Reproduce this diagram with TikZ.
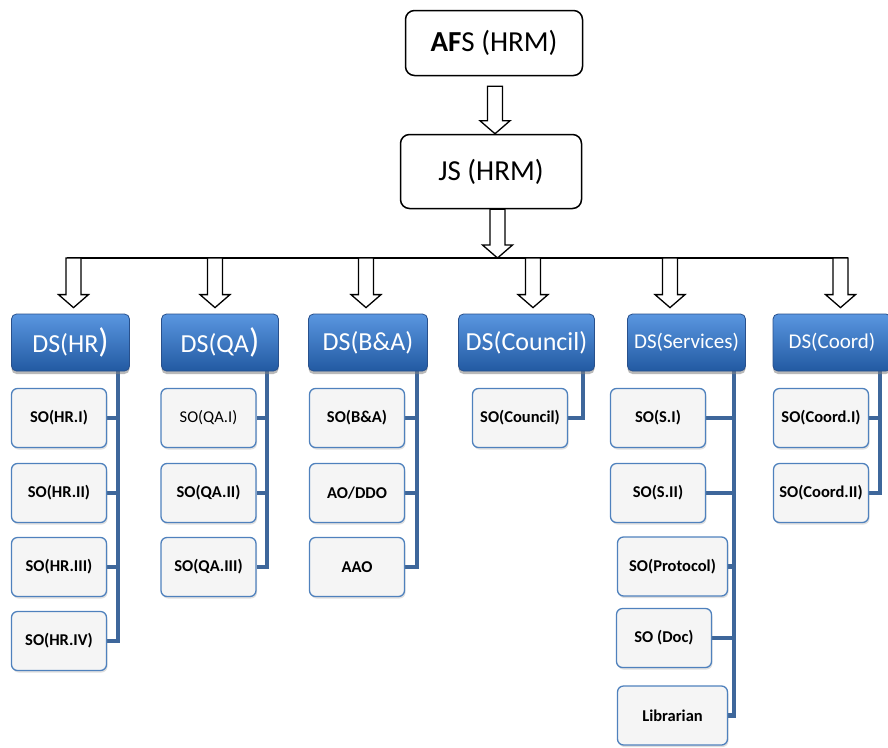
\documentclass[tikz,border=0pt]{standalone}
\usepackage{fontspec}
\setmainfont{Carlito}
\usetikzlibrary{calc,shadows,backgrounds}

\definecolor{dstop}{RGB}{90,150,224}
\definecolor{dsbot}{RGB}{34,90,162}
\definecolor{dsedge}{RGB}{40,80,140}
\definecolor{soedge}{RGB}{79,129,189}
\definecolor{sofill}{RGB}{245,245,245}
\definecolor{linkblue}{RGB}{62,103,155}

\tikzset{
  topbox/.style={draw=black, line width=1.5pt, rounded corners=9pt, fill=white,
    inner sep=0pt, font=\fontsize{29}{32}\selectfont},
  dsbox/.style={draw=dsedge, line width=0.8pt, rounded corners=5pt,
    top color=dstop, bottom color=dsbot, text=white, inner sep=0pt,
    minimum height=57pt, font=\fontsize{26}{29}\selectfont,
    drop shadow={opacity=0.55, shadow xshift=0pt, shadow yshift=-3pt}},
  sobox/.style={draw=soedge, line width=1.3pt, rounded corners=6pt, fill=sofill,
    inner sep=0pt, minimum width=95pt, minimum height=59pt,
    font=\fontsize{16.5}{19}\selectfont\bfseries,
    drop shadow={opacity=0.25, shadow xshift=1pt, shadow yshift=-2pt}},
  link/.style={draw=linkblue, line width=4.8pt},
  blockarrow/.style={draw=black, line width=1.3pt, fill=white, line join=miter}
}

% hollow down arrow: #1 top of shaft, #2 gives the height of the tip
\newcommand{\hollowdown}[2]{%
  \draw[blockarrow] let \p1=(#1), \p2=(#2) in
    (\x1-7.5pt,\y1) -- (\x1+7.5pt,\y1) -- (\x1+7.5pt,\y2+13pt) -- (\x1+15pt,\y2+13pt)
    -- (\x1,\y2) -- (\x1-15pt,\y2+13pt) -- (\x1-7.5pt,\y2+13pt) -- cycle;}

\newcommand{\bigparen}{{\fontsize{34}{34}\selectfont)}}

\begin{document}
\begin{tikzpicture}[x=1pt, y=-1pt]
  \useasboundingbox (0,0) rectangle (888,747);

  % top of the chart
  \node[topbox, minimum width=177pt, minimum height=65pt] (afs) at (494,43) {\textbf{AF}S (HRM)};
  \node[topbox, minimum width=181pt, minimum height=74pt] (js) at (491,171.5) {JS (HRM)};

  \hollowdown{$(afs.south)+(1,10)$}{js.north}
  \coordinate (busL) at (67,258);
  \coordinate (busR) at (848,258);
  \hollowdown{$(js.south)+(6.5,0)$}{busL}
  \draw[line width=1.5pt] (busL) -- (busR);

  % deputy secretaries
  \node[dsbox, minimum width=118pt] (hr) at (70.5,342.5) {DS(HR\bigparen};
  \node[dsbox, minimum width=117pt] (qa) at (220,342.5) {DS(QA\bigparen};
  \node[dsbox, minimum width=119pt] (ba) at (368,342.5) {DS(B\&A)};
  \node[dsbox, minimum width=136pt] (council) at (526.5,342.5) {DS(Council)};
  \node[dsbox, minimum width=118pt, font=\fontsize{21}{24}\selectfont] (serv) at (686.5,342.5) {DS(Services)};
  \node[dsbox, minimum width=118pt, font=\fontsize{21}{24}\selectfont] (coord) at (832,342.5) {DS(Coord)};

  \foreach \d/\x in {hr/73.5, qa/215, ba/366, council/533, serv/670, coord/840.5} {
    \coordinate (drop-\d) at (\x,258);
    \coordinate (tip-\d) at ($(\d.north)+(0,-6)$);
    \hollowdown{drop-\d}{tip-\d}
  }

  % section officers
  \node[sobox] (hr1) at (59,418) {SO(HR.I)};
  \node[sobox] (hr2) at (59,493) {SO(HR.II)};
  \node[sobox] (hr3) at (59,567) {SO(HR.III)};
  \node[sobox] (hr4) at (59,641) {SO(HR.IV)};

  \node[sobox, font=\fontsize{16.5}{19}\selectfont] (qa1) at (208.5,418) {SO(QA.I)};
  \node[sobox] (qa2) at (208.5,493) {SO(QA.II)};
  \node[sobox] (qa3) at (208.5,567) {SO(QA.III)};

  \node[sobox] (ba1) at (357,418) {SO(B\&A)};
  \node[sobox] (ba2) at (357,493) {AO/DDO};
  \node[sobox] (ba3) at (357,567) {AAO};

  \node[sobox] (co1) at (520,418) {SO(Council)};

  \node[sobox] (sv1) at (658,418) {SO(S.I)};
  \node[sobox] (sv2) at (658,493) {SO(S.II)};
  \node[sobox, minimum width=110pt] (sv3) at (672.5,566.5) {SO(Protocol)};
  \node[sobox] (sv4) at (664,638) {SO (Doc)};
  \node[sobox, minimum width=110pt] (sv5) at (672.5,715.5) {Librarian};

  \node[sobox] (cd1) at (821,418) {SO(Coord.I)};
  \node[sobox] (cd2) at (821,493) {SO(Coord.II)};

  % links from each DS down to its officers
  \begin{scope}[on background layer]
    \coordinate (hrbar) at (118,365);
    \draw[link] (hrbar) |- (hr4.east);
    \foreach \s in {hr1,hr2,hr3} \draw[link] (\s.east) -- (\s.east -| hrbar);

    \coordinate (qabar) at (267,365);
    \draw[link] (qabar) |- (qa3.east);
    \foreach \s in {qa1,qa2} \draw[link] (\s.east) -- (\s.east -| qabar);

    \coordinate (babar) at (417,365);
    \draw[link] (babar) |- (ba3.east);
    \foreach \s in {ba1,ba2} \draw[link] (\s.east) -- (\s.east -| babar);

    \coordinate (cobar) at (583,365);
    \draw[link] (cobar) |- (co1.east);

    \coordinate (svbar) at (734,365);
    \draw[link] (svbar) |- (sv5.east);
    \foreach \s in {sv1,sv2,sv3,sv4} \draw[link] (\s.east) -- (\s.east -| svbar);

    \coordinate (cdbar) at (880,365);
    \draw[link] (cdbar) |- (cd2.east);
    \draw[link] (cd1.east) -- (cd1.east -| cdbar);
  \end{scope}
\end{tikzpicture}
\end{document}
